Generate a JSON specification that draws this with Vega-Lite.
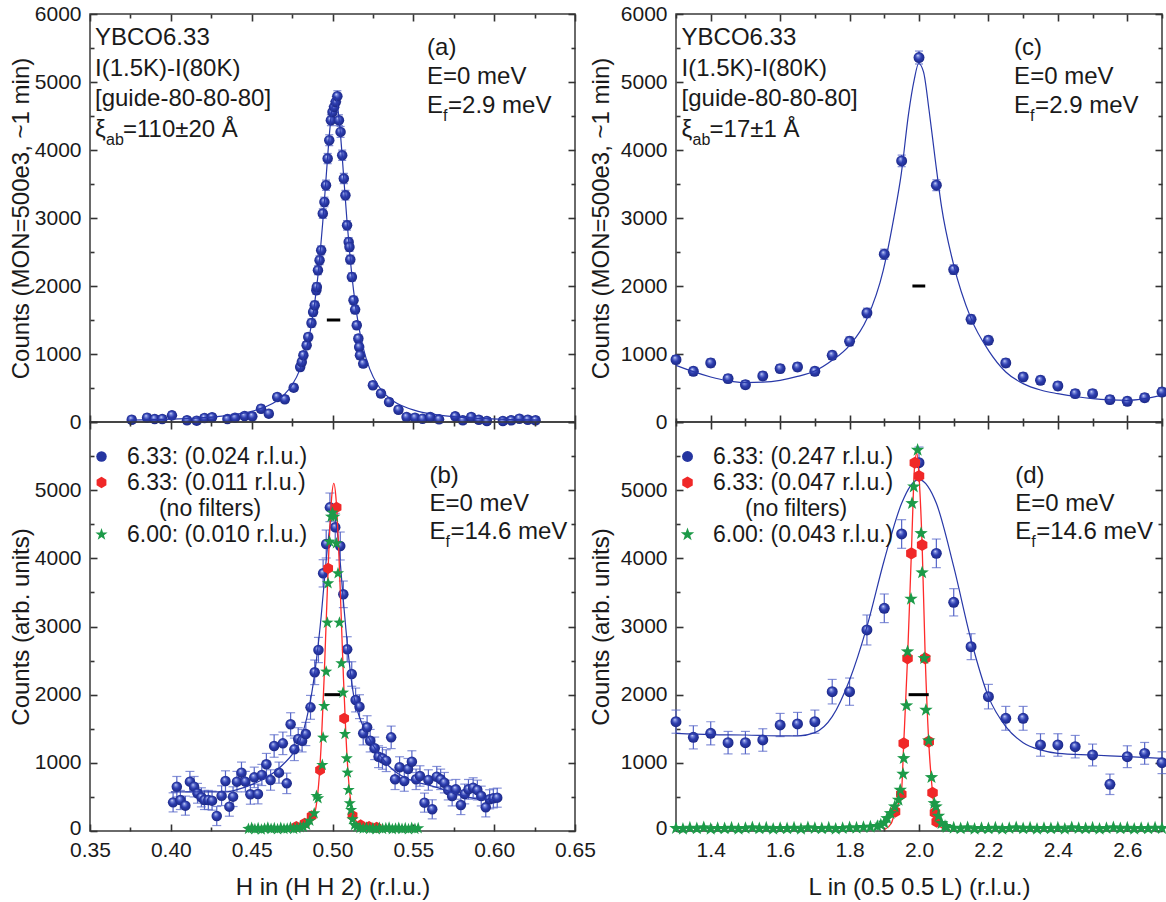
{
  "$schema": "https://vega.github.io/schema/vega-lite/v6.json",
  "background": "white",
  "padding": {"left": 8, "top": 2, "right": 3, "bottom": 5},
  "config": {
    "font": "Liberation Sans",
    "view": {"stroke": "#3a3a3a", "strokeWidth": 1.5},
    "axis": {"grid": false, "domain": false, "labelFont": "Liberation Sans", "labelFontSize": 21, "labelColor": "#1a1a1a", "labelFlush": false, "labelOverlap": false, "labelBound": false, "titleFont": "Liberation Sans", "titleFontSize": 24, "titleFontWeight": "normal", "titleColor": "#1a1a1a", "tickColor": "#333333", "tickWidth": 1.6, "zindex": 1},
    "legend": {"labelFont": "Liberation Sans", "labelColor": "#1a1a1a"},
    "text": {"font": "Liberation Sans", "fontSize": 24, "color": "#1a1a1a"}
  },
  "datasets": {
    "a_pts": [
      {"H":0.3758,"C":34,"e":50},{"H":0.3853,"C":64,"e":50},{"H":0.390,"C":44,"e":50},{"H":0.3947,"C":44,"e":50},{"H":0.4007,"C":98,"e":50},{"H":0.410,"C":25,"e":50},{"H":0.416,"C":20,"e":50},{"H":0.4208,"C":59,"e":50},{"H":0.4255,"C":69,"e":50},{"H":0.435,"C":44,"e":50},{"H":0.4397,"C":64,"e":50},{"H":0.4456,"C":88,"e":50},{"H":0.4504,"C":83,"e":50},{"H":0.4558,"C":196,"e":50},{"H":0.4606,"C":123,"e":50},{"H":0.4658,"C":368,"e":50},{"H":0.4705,"C":335,"e":50},{"H":0.476,"C":505,"e":50},{"H":0.480,"C":809,"e":55},{"H":0.481,"C":883,"e":55},{"H":0.482,"C":981,"e":55},{"H":0.484,"C":1128,"e":55},{"H":0.485,"C":1250,"e":55},{"H":0.487,"C":1456,"e":60},{"H":0.488,"C":1618,"e":60},{"H":0.489,"C":1717,"e":60},{"H":0.490,"C":1937,"e":60},{"H":0.4903,"C":1986,"e":60},{"H":0.491,"C":2232,"e":65},{"H":0.492,"C":2379,"e":65},{"H":0.493,"C":2525,"e":65},{"H":0.494,"C":3065,"e":70},{"H":0.495,"C":3236,"e":70},{"H":0.496,"C":3482,"e":75},{"H":0.497,"C":3874,"e":75},{"H":0.498,"C":4144,"e":80},{"H":0.499,"C":4438,"e":80},{"H":0.500,"C":4560,"e":80},{"H":0.501,"C":4634,"e":80},{"H":0.502,"C":4707,"e":80},{"H":0.503,"C":4791,"e":80},{"H":0.504,"C":4438,"e":80},{"H":0.505,"C":4266,"e":80},{"H":0.506,"C":3923,"e":75},{"H":0.507,"C":3580,"e":75},{"H":0.508,"C":3335,"e":70},{"H":0.509,"C":2893,"e":70},{"H":0.510,"C":2648,"e":65},{"H":0.5105,"C":2574,"e":65},{"H":0.511,"C":2389,"e":65},{"H":0.512,"C":2133,"e":60},{"H":0.513,"C":1790,"e":60},{"H":0.514,"C":1653,"e":60},{"H":0.515,"C":1422,"e":55},{"H":0.516,"C":1227,"e":55},{"H":0.5165,"C":1103,"e":55},{"H":0.517,"C":981,"e":55},{"H":0.519,"C":859,"e":55},{"H":0.525,"C":540,"e":50},{"H":0.530,"C":418,"e":50},{"H":0.535,"C":294,"e":50},{"H":0.5408,"C":181,"e":50},{"H":0.5458,"C":74,"e":50},{"H":0.551,"C":64,"e":50},{"H":0.5557,"C":49,"e":50},{"H":0.5605,"C":74,"e":50},{"H":0.5659,"C":39,"e":50},{"H":0.5759,"C":83,"e":50},{"H":0.5806,"C":25,"e":50},{"H":0.5858,"C":74,"e":50},{"H":0.5905,"C":34,"e":50},{"H":0.5955,"C":15,"e":50},{"H":0.6054,"C":15,"e":50},{"H":0.6106,"C":25,"e":50},{"H":0.6156,"C":49,"e":50},{"H":0.6208,"C":34,"e":50},{"H":0.6256,"C":25,"e":50}
    ],
    "a_fit": [
      {"H":0.375,"C":27},{"H":0.39,"C":34},{"H":0.40,"C":41},{"H":0.41,"C":51},{"H":0.42,"C":64},{"H":0.43,"C":83},{"H":0.44,"C":111},{"H":0.45,"C":157},{"H":0.46,"C":238},{"H":0.465,"C":303},{"H":0.47,"C":399},{"H":0.475,"C":544},{"H":0.48,"C":781},{"H":0.484,"C":1089},{"H":0.487,"C":1435},{"H":0.49,"C":1939},{"H":0.492,"C":2390},{"H":0.494,"C":2945},{"H":0.496,"C":3580},{"H":0.498,"C":4208},{"H":0.5,"C":4664},{"H":0.5015,"C":4780},{"H":0.503,"C":4664},{"H":0.505,"C":4208},{"H":0.507,"C":3580},{"H":0.509,"C":2945},{"H":0.511,"C":2390},{"H":0.513,"C":1939},{"H":0.516,"C":1435},{"H":0.519,"C":1089},{"H":0.523,"C":781},{"H":0.528,"C":544},{"H":0.533,"C":399},{"H":0.538,"C":303},{"H":0.543,"C":238},{"H":0.553,"C":157},{"H":0.563,"C":111},{"H":0.573,"C":83},{"H":0.583,"C":64},{"H":0.593,"C":51},{"H":0.603,"C":41},{"H":0.613,"C":34},{"H":0.628,"C":27}
    ],
    "c_pts": [
      {"L":1.30,"C":917,"e":60},{"L":1.35,"C":745,"e":60},{"L":1.40,"C":868,"e":60},{"L":1.45,"C":638,"e":60},{"L":1.50,"C":549,"e":60},{"L":1.55,"C":677,"e":60},{"L":1.60,"C":785,"e":60},{"L":1.65,"C":809,"e":60},{"L":1.70,"C":745,"e":60},{"L":1.75,"C":981,"e":60},{"L":1.80,"C":1187,"e":65},{"L":1.85,"C":1604,"e":70},{"L":1.90,"C":2467,"e":75},{"L":1.95,"C":3840,"e":85},{"L":2.00,"C":5360,"e":95},{"L":2.05,"C":3482,"e":80},{"L":2.10,"C":2241,"e":70},{"L":2.15,"C":1510,"e":65},{"L":2.20,"C":1201,"e":60},{"L":2.25,"C":868,"e":60},{"L":2.30,"C":662,"e":60},{"L":2.35,"C":613,"e":60},{"L":2.40,"C":530,"e":60},{"L":2.45,"C":417,"e":60},{"L":2.50,"C":417,"e":60},{"L":2.55,"C":329,"e":60},{"L":2.60,"C":304,"e":60},{"L":2.65,"C":358,"e":60},{"L":2.70,"C":441,"e":60}
    ],
    "c_fit": [
      {"L":1.30,"C":834},{"L":1.35,"C":740},{"L":1.40,"C":662},{"L":1.45,"C":605},{"L":1.50,"C":579},{"L":1.55,"C":585},{"L":1.60,"C":613},{"L":1.65,"C":670},{"L":1.70,"C":750},{"L":1.75,"C":907},{"L":1.80,"C":1128},{"L":1.85,"C":1520},{"L":1.897,"C":2231},{"L":1.928,"C":3016},{"L":1.949,"C":3653},{"L":1.970,"C":4536},{"L":1.986,"C":5027},{"L":1.999,"C":5272},{"L":2.013,"C":5149},{"L":2.029,"C":4585},{"L":2.047,"C":3850},{"L":2.065,"C":3163},{"L":2.099,"C":2329},{"L":2.15,"C":1520},{"L":2.20,"C":1054},{"L":2.25,"C":736},{"L":2.30,"C":564},{"L":2.35,"C":470},{"L":2.40,"C":417},{"L":2.45,"C":375},{"L":2.50,"C":343},{"L":2.55,"C":325},{"L":2.60,"C":319},{"L":2.65,"C":345},{"L":2.70,"C":392}
    ],
    "b_blue": [
      {"H":0.4014,"C":420,"e":140},{"H":0.4037,"C":650,"e":150},{"H":0.4059,"C":455,"e":140},{"H":0.409,"C":372,"e":140},{"H":0.4118,"C":724,"e":150},{"H":0.4144,"C":650,"e":150},{"H":0.4165,"C":553,"e":145},{"H":0.4189,"C":494,"e":140},{"H":0.4208,"C":455,"e":140},{"H":0.4232,"C":455,"e":140},{"H":0.4255,"C":445,"e":140},{"H":0.4284,"C":220,"e":140},{"H":0.4314,"C":518,"e":145},{"H":0.4338,"C":733,"e":150},{"H":0.4362,"C":357,"e":140},{"H":0.4385,"C":504,"e":145},{"H":0.4409,"C":724,"e":150},{"H":0.4437,"C":856,"e":155},{"H":0.4461,"C":724,"e":150},{"H":0.4492,"C":538,"e":145},{"H":0.4516,"C":787,"e":150},{"H":0.4539,"C":543,"e":145},{"H":0.4563,"C":822,"e":155},{"H":0.4591,"C":978,"e":160},{"H":0.4617,"C":748,"e":150},{"H":0.4639,"C":1247,"e":165},{"H":0.4669,"C":856,"e":155},{"H":0.4693,"C":1286,"e":165},{"H":0.4717,"C":699,"e":150},{"H":0.4741,"C":1565,"e":170},{"H":0.4764,"C":1198,"e":165},{"H":0.4788,"C":1350,"e":165},{"H":0.4812,"C":1325,"e":165},{"H":0.4835,"C":1423,"e":170},{"H":0.4864,"C":1814,"e":175},{"H":0.489,"C":2328,"e":180},{"H":0.4913,"C":2655,"e":185},{"H":0.4942,"C":3780,"e":200},{"H":0.4961,"C":4210,"e":205},{"H":0.4984,"C":4748,"e":210},{"H":0.5017,"C":4455,"e":205},{"H":0.5048,"C":4181,"e":205},{"H":0.5067,"C":3472,"e":195},{"H":0.5091,"C":2665,"e":185},{"H":0.5119,"C":2303,"e":180},{"H":0.5143,"C":1922,"e":175},{"H":0.5167,"C":1824,"e":175},{"H":0.519,"C":1433,"e":170},{"H":0.5214,"C":1521,"e":170},{"H":0.5233,"C":1325,"e":165},{"H":0.5261,"C":1213,"e":165},{"H":0.5285,"C":1090,"e":160},{"H":0.5309,"C":1066,"e":160},{"H":0.5332,"C":1032,"e":160},{"H":0.5363,"C":1374,"e":165},{"H":0.5387,"C":758,"e":150},{"H":0.5415,"C":934,"e":155},{"H":0.5444,"C":733,"e":150},{"H":0.5467,"C":909,"e":155},{"H":0.5491,"C":1017,"e":160},{"H":0.5517,"C":758,"e":150},{"H":0.5541,"C":807,"e":150},{"H":0.5569,"C":416,"e":140},{"H":0.5593,"C":748,"e":150},{"H":0.5617,"C":318,"e":140},{"H":0.5645,"C":797,"e":150},{"H":0.5669,"C":758,"e":150},{"H":0.5692,"C":709,"e":150},{"H":0.5716,"C":601,"e":145},{"H":0.574,"C":513,"e":145},{"H":0.5763,"C":611,"e":145},{"H":0.5794,"C":381,"e":140},{"H":0.5818,"C":543,"e":145},{"H":0.5841,"C":611,"e":145},{"H":0.587,"C":636,"e":145},{"H":0.5896,"C":601,"e":145},{"H":0.592,"C":513,"e":145},{"H":0.5948,"C":347,"e":140},{"H":0.5972,"C":465,"e":140},{"H":0.5995,"C":479,"e":140},{"H":0.6019,"C":489,"e":140}
    ],
    "b_blue_fit": [
      {"H":0.400,"C":575},{"H":0.435,"C":575},{"H":0.44,"C":600},{"H":0.45,"C":680},{"H":0.46,"C":800},{"H":0.465,"C":880},{"H":0.47,"C":990},{"H":0.475,"C":1120},{"H":0.48,"C":1330},{"H":0.484,"C":1650},{"H":0.487,"C":2000},{"H":0.49,"C":2500},{"H":0.493,"C":3150},{"H":0.496,"C":3950},{"H":0.498,"C":4400},{"H":0.5,"C":4650},{"H":0.502,"C":4550},{"H":0.504,"C":4150},{"H":0.507,"C":3300},{"H":0.51,"C":2550},{"H":0.513,"C":2000},{"H":0.516,"C":1720},{"H":0.52,"C":1480},{"H":0.525,"C":1260},{"H":0.53,"C":1090},{"H":0.535,"C":950},{"H":0.54,"C":850},{"H":0.55,"C":730},{"H":0.56,"C":670},{"H":0.57,"C":600},{"H":0.58,"C":520},{"H":0.59,"C":470},{"H":0.60,"C":460}
    ],
    "b_red_fit": [
      {"H":0.4728,"C":10},{"H":0.4788,"C":30},{"H":0.4848,"C":80},{"H":0.4878,"C":180},{"H":0.4898,"C":350},{"H":0.4918,"C":796},{"H":0.4933,"C":1404},{"H":0.4948,"C":2234},{"H":0.4963,"C":3205},{"H":0.4978,"C":4150},{"H":0.4993,"C":4840},{"H":0.5008,"C":5100},{"H":0.5023,"C":4840},{"H":0.5038,"C":4150},{"H":0.5053,"C":3205},{"H":0.5068,"C":2234},{"H":0.5083,"C":1404},{"H":0.5098,"C":796},{"H":0.5118,"C":350},{"H":0.5138,"C":180},{"H":0.5168,"C":80},{"H":0.5228,"C":30},{"H":0.5278,"C":10}
    ],
    "b_rg": [
      {"H":0.4776,"C":64,"s":"633nf"},{"H":0.4828,"C":112,"s":"633nf"},{"H":0.4871,"C":220,"s":"633nf"},{"H":0.4923,"C":895,"s":"633nf"},{"H":0.4973,"C":3853,"s":"633nf"},{"H":0.5025,"C":4748,"s":"633nf"},{"H":0.5072,"C":1653,"s":"633nf"},{"H":0.5124,"C":225,"s":"633nf"},{"H":0.5174,"C":88,"s":"633nf"},{"H":0.5226,"C":64,"s":"633nf"},{"H":0.5273,"C":54,"s":"633nf"},
      {"H":0.448,"C":30,"s":"600"},{"H":0.450,"C":45,"s":"600"},{"H":0.452,"C":25,"s":"600"},{"H":0.454,"C":40,"s":"600"},{"H":0.456,"C":20,"s":"600"},{"H":0.458,"C":35,"s":"600"},{"H":0.460,"C":50,"s":"600"},{"H":0.462,"C":30,"s":"600"},{"H":0.464,"C":40,"s":"600"},{"H":0.466,"C":25,"s":"600"},{"H":0.468,"C":45,"s":"600"},{"H":0.470,"C":30,"s":"600"},{"H":0.472,"C":35,"s":"600"},{"H":0.474,"C":50,"s":"600"},{"H":0.476,"C":30,"s":"600"},{"H":0.478,"C":40,"s":"600"},{"H":0.480,"C":55,"s":"600"},{"H":0.482,"C":60,"s":"600"},{"H":0.484,"C":90,"s":"600"},{"H":0.486,"C":150,"s":"600"},{"H":0.4887,"C":259,"s":"600"},{"H":0.4901,"C":513,"s":"600"},{"H":0.4911,"C":479,"s":"600"},{"H":0.4937,"C":968,"s":"600"},{"H":0.4942,"C":1369,"s":"600"},{"H":0.4949,"C":1834,"s":"600"},{"H":0.4961,"C":2337,"s":"600"},{"H":0.4968,"C":3056,"s":"600"},{"H":0.4973,"C":3633,"s":"600"},{"H":0.4982,"C":4245,"s":"600"},{"H":0.4991,"C":4611,"s":"600"},{"H":0.5,"C":4670,"s":"600"},{"H":0.5012,"C":4611,"s":"600"},{"H":0.5024,"C":4220,"s":"600"},{"H":0.5034,"C":3780,"s":"600"},{"H":0.5043,"C":3056,"s":"600"},{"H":0.5055,"C":2460,"s":"600"},{"H":0.5065,"C":2029,"s":"600"},{"H":0.5077,"C":1423,"s":"600"},{"H":0.5088,"C":1066,"s":"600"},{"H":0.5093,"C":856,"s":"600"},{"H":0.51,"C":601,"s":"600"},{"H":0.5107,"C":406,"s":"600"},{"H":0.5115,"C":308,"s":"600"},{"H":0.5124,"C":171,"s":"600"},{"H":0.5136,"C":88,"s":"600"},{"H":0.515,"C":60,"s":"600"},{"H":0.517,"C":45,"s":"600"},{"H":0.519,"C":35,"s":"600"},{"H":0.521,"C":50,"s":"600"},{"H":0.523,"C":30,"s":"600"},{"H":0.525,"C":40,"s":"600"},{"H":0.527,"C":25,"s":"600"},{"H":0.529,"C":45,"s":"600"},{"H":0.531,"C":30,"s":"600"},{"H":0.533,"C":40,"s":"600"},{"H":0.535,"C":50,"s":"600"},{"H":0.537,"C":25,"s":"600"},{"H":0.539,"C":35,"s":"600"},{"H":0.541,"C":45,"s":"600"},{"H":0.543,"C":30,"s":"600"},{"H":0.545,"C":40,"s":"600"},{"H":0.547,"C":25,"s":"600"},{"H":0.549,"C":45,"s":"600"},{"H":0.551,"C":30,"s":"600"},{"H":0.553,"C":40,"s":"600"}
    ],
    "d_blue": [
      {"L":1.30,"C":1604,"e":170},{"L":1.35,"C":1374,"e":170},{"L":1.40,"C":1433,"e":170},{"L":1.45,"C":1296,"e":165},{"L":1.50,"C":1296,"e":165},{"L":1.55,"C":1335,"e":165},{"L":1.60,"C":1555,"e":170},{"L":1.65,"C":1570,"e":170},{"L":1.70,"C":1604,"e":170},{"L":1.75,"C":2044,"e":180},{"L":1.80,"C":2044,"e":200},{"L":1.85,"C":2949,"e":220},{"L":1.90,"C":3267,"e":210},{"L":1.95,"C":4357,"e":210},{"L":2.00,"C":5403,"e":230},{"L":2.05,"C":4073,"e":210},{"L":2.10,"C":3355,"e":200},{"L":2.15,"C":2704,"e":190},{"L":2.20,"C":1971,"e":180},{"L":2.25,"C":1653,"e":175},{"L":2.30,"C":1653,"e":175},{"L":2.35,"C":1262,"e":165},{"L":2.40,"C":1262,"e":165},{"L":2.45,"C":1237,"e":165},{"L":2.50,"C":1115,"e":160},{"L":2.55,"C":685,"e":150},{"L":2.60,"C":1090,"e":160},{"L":2.65,"C":1139,"e":160},{"L":2.70,"C":1002,"e":160}
    ],
    "d_blue_fit": [
      {"L":1.30,"C":1433},{"L":1.40,"C":1415},{"L":1.50,"C":1408},{"L":1.60,"C":1395},{"L":1.65,"C":1394},{"L":1.70,"C":1443},{"L":1.75,"C":1677},{"L":1.80,"C":2215},{"L":1.85,"C":2998},{"L":1.90,"C":3976},{"L":1.95,"C":4807},{"L":1.975,"C":5060},{"L":2.00,"C":5159},{"L":2.025,"C":5060},{"L":2.05,"C":4807},{"L":2.10,"C":3878},{"L":2.15,"C":2802},{"L":2.20,"C":1971},{"L":2.25,"C":1531},{"L":2.30,"C":1296},{"L":2.35,"C":1190},{"L":2.40,"C":1139},{"L":2.50,"C":1115},{"L":2.60,"C":1090},{"L":2.70,"C":1066}
    ],
    "d_red_fit": [
      {"L":1.90,"C":20},{"L":1.92,"C":110},{"L":1.931,"C":284},{"L":1.949,"C":540},{"L":1.956,"C":1286},{"L":1.967,"C":2533},{"L":1.978,"C":4073},{"L":1.988,"C":5403},{"L":1.994,"C":5540},{"L":2.0,"C":5208},{"L":2.009,"C":4196},{"L":2.018,"C":2533},{"L":2.028,"C":1311},{"L":2.039,"C":562},{"L":2.046,"C":269},{"L":2.051,"C":137},{"L":2.065,"C":50},{"L":2.09,"C":15}
    ],
    "d_rg": [
      {"L":1.931,"C":284,"s":"633nf"},{"L":1.949,"C":538,"s":"633nf"},{"L":1.956,"C":1286,"s":"633nf"},{"L":1.967,"C":2533,"s":"633nf"},{"L":1.978,"C":4073,"s":"633nf"},{"L":1.988,"C":5403,"s":"633nf"},{"L":2.0,"C":5208,"s":"633nf"},{"L":2.009,"C":4196,"s":"633nf"},{"L":2.018,"C":2533,"s":"633nf"},{"L":2.028,"C":1311,"s":"633nf"},{"L":2.039,"C":562,"s":"633nf"},{"L":2.046,"C":269,"s":"633nf"},{"L":2.051,"C":137,"s":"633nf"},
      {"L":1.30,"C":40,"s":"600"},{"L":1.32,"C":30,"s":"600"},{"L":1.34,"C":45,"s":"600"},{"L":1.36,"C":35,"s":"600"},{"L":1.38,"C":50,"s":"600"},{"L":1.40,"C":30,"s":"600"},{"L":1.42,"C":40,"s":"600"},{"L":1.44,"C":35,"s":"600"},{"L":1.46,"C":45,"s":"600"},{"L":1.48,"C":30,"s":"600"},{"L":1.50,"C":40,"s":"600"},{"L":1.52,"C":50,"s":"600"},{"L":1.54,"C":35,"s":"600"},{"L":1.56,"C":45,"s":"600"},{"L":1.58,"C":30,"s":"600"},{"L":1.60,"C":40,"s":"600"},{"L":1.62,"C":35,"s":"600"},{"L":1.64,"C":45,"s":"600"},{"L":1.66,"C":30,"s":"600"},{"L":1.68,"C":50,"s":"600"},{"L":1.70,"C":40,"s":"600"},{"L":1.72,"C":35,"s":"600"},{"L":1.74,"C":45,"s":"600"},{"L":1.76,"C":30,"s":"600"},{"L":1.78,"C":40,"s":"600"},{"L":1.80,"C":50,"s":"600"},{"L":1.82,"C":45,"s":"600"},{"L":1.84,"C":55,"s":"600"},{"L":1.86,"C":60,"s":"600"},{"L":1.88,"C":70,"s":"600"},{"L":1.89,"C":90,"s":"600"},{"L":1.90,"C":120,"s":"600"},{"L":1.908,"C":186,"s":"600"},{"L":1.918,"C":259,"s":"600"},{"L":1.93,"C":357,"s":"600"},{"L":1.941,"C":455,"s":"600"},{"L":1.946,"C":601,"s":"600"},{"L":1.954,"C":836,"s":"600"},{"L":1.956,"C":1066,"s":"600"},{"L":1.964,"C":1839,"s":"600"},{"L":1.967,"C":2631,"s":"600"},{"L":1.977,"C":3404,"s":"600"},{"L":1.98,"C":4807,"s":"600"},{"L":1.985,"C":5051,"s":"600"},{"L":1.996,"C":5589,"s":"600"},{"L":2.006,"C":4367,"s":"600"},{"L":2.009,"C":3790,"s":"600"},{"L":2.015,"C":2533,"s":"600"},{"L":2.02,"C":1775,"s":"600"},{"L":2.028,"C":1325,"s":"600"},{"L":2.036,"C":787,"s":"600"},{"L":2.044,"C":406,"s":"600"},{"L":2.049,"C":357,"s":"600"},{"L":2.056,"C":220,"s":"600"},{"L":2.065,"C":112,"s":"600"},{"L":2.075,"C":70,"s":"600"},{"L":2.08,"C":55,"s":"600"},{"L":2.10,"C":45,"s":"600"},{"L":2.12,"C":35,"s":"600"},{"L":2.14,"C":50,"s":"600"},{"L":2.16,"C":30,"s":"600"},{"L":2.18,"C":40,"s":"600"},{"L":2.20,"C":35,"s":"600"},{"L":2.22,"C":45,"s":"600"},{"L":2.24,"C":30,"s":"600"},{"L":2.26,"C":40,"s":"600"},{"L":2.28,"C":50,"s":"600"},{"L":2.30,"C":35,"s":"600"},{"L":2.32,"C":45,"s":"600"},{"L":2.34,"C":30,"s":"600"},{"L":2.36,"C":40,"s":"600"},{"L":2.38,"C":35,"s":"600"},{"L":2.40,"C":45,"s":"600"},{"L":2.42,"C":30,"s":"600"},{"L":2.44,"C":50,"s":"600"},{"L":2.46,"C":40,"s":"600"},{"L":2.48,"C":35,"s":"600"},{"L":2.50,"C":45,"s":"600"},{"L":2.52,"C":30,"s":"600"},{"L":2.54,"C":40,"s":"600"},{"L":2.56,"C":50,"s":"600"},{"L":2.58,"C":35,"s":"600"},{"L":2.60,"C":45,"s":"600"},{"L":2.62,"C":30,"s":"600"},{"L":2.64,"C":40,"s":"600"},{"L":2.66,"C":35,"s":"600"},{"L":2.68,"C":45,"s":"600"},{"L":2.70,"C":40,"s":"600"}
    ]
  },
  "columns": 2,
  "spacing": {"row": 0, "column": 101},
  "bounds": "flush",
  "resolve": {"scale": {"color": "independent", "shape": "independent", "size": "independent"}, "legend": {"color": "independent", "shape": "independent", "size": "independent"}},
  "concat": [
    {
      "width": 485, "height": 408,
      "resolve": {"axis": {"x": "independent", "y": "independent"}},
      "layer": [
        {"data": {"name": "a_pts"}, "mark": {"type": "errorbar", "ticks": {"size": 8}, "color": "#4a5ac0", "thickness": 1.2},
         "encoding": {"x": {"field": "H", "type": "quantitative", "scale": {"domain": [0.35, 0.65], "nice": false, "zero": false}, "axis": null}, "y": {"field": "C", "type": "quantitative", "scale": {"domain": [0, 6000], "nice": false}, "axis": null}, "yError": {"field": "e"}}},
        {"data": {"name": "a_pts"}, "mark": {"type": "point", "shape": "circle", "filled": true, "size": 110, "opacity": 1, "strokeWidth": 0, "fill": {"gradient": "radial", "x1": 0.38, "y1": 0.3, "r1": 0, "x2": 0.5, "y2": 0.5, "r2": 0.55, "stops": [{"offset": 0, "color": "#eef0ff"}, {"offset": 0.18, "color": "#8090e0"}, {"offset": 0.5, "color": "#2e3eb0"}, {"offset": 1, "color": "#18247e"}]}},
         "encoding": {
           "x": {"field": "H", "type": "quantitative", "scale": {"domain": [0.35, 0.65], "nice": false, "zero": false}, "axis": {"orient": "bottom", "values": [0.35,0.375,0.4,0.425,0.45,0.475,0.5,0.525,0.55,0.575,0.6,0.625,0.65], "labels": false, "title": null, "tickSize": {"condition": {"test": "abs(datum.value*20-round(datum.value*20))<0.001", "value": -7}, "value": -4}}},
           "y": {"field": "C", "type": "quantitative", "scale": {"domain": [0, 6000], "nice": false}, "axis": {"orient": "left", "values": [0,500,1000,1500,2000,2500,3000,3500,4000,4500,5000,5500,6000], "labelExpr": "datum.value % 1000 === 0 ? format(datum.value, 'd') : ''", "tickSize": {"condition": {"test": "datum.value % 1000 === 0", "value": -7}, "value": -4}, "labelPadding": 16, "title": "Counts (MON=500e3, ~1 min)", "titlePadding": 1}}}},
        {"data": {"name": "a_fit"}, "mark": {"type": "line", "color": "#2838a8", "strokeWidth": 1.2, "interpolate": "monotone"},
         "encoding": {
           "x": {"field": "H", "type": "quantitative", "scale": {"domain": [0.35, 0.65], "nice": false, "zero": false}, "axis": {"orient": "top", "values": [0.35,0.375,0.4,0.425,0.45,0.475,0.5,0.525,0.55,0.575,0.6,0.625,0.65], "labels": false, "title": null, "tickSize": {"condition": {"test": "abs(datum.value*20-round(datum.value*20))<0.001", "value": -7}, "value": -4}}},
           "y": {"field": "C", "type": "quantitative", "scale": {"domain": [0, 6000], "nice": false}, "axis": {"orient": "right", "values": [0,500,1000,1500,2000,2500,3000,3500,4000,4500,5000,5500,6000], "labels": false, "title": null, "tickSize": {"condition": {"test": "datum.value % 1000 === 0", "value": -7}, "value": -4}}}}},
        {"data": {"values": [{"x1": 0.4965, "x2": 0.5048, "C": 1500}]}, "mark": {"type": "rule", "color": "black", "strokeWidth": 3},
         "encoding": {"x": {"field": "x1", "type": "quantitative", "scale": {"domain": [0.35, 0.65], "nice": false, "zero": false}, "axis": null}, "x2": {"field": "x2"}, "y": {"field": "C", "type": "quantitative", "scale": {"domain": [0, 6000], "nice": false}, "axis": null}}},
        {"data": {"values": [{}]}, "mark": {"type": "text", "align": "left", "baseline": "alphabetic", "fontSize": 24, "lineHeight": 30.5, "text": ["YBCO6.33", "I(1.5K)-I(80K)", "[guide-80-80-80]"]},
         "encoding": {"x": {"datum": 0.3531, "type": "quantitative", "scale": {"domain": [0.35, 0.65], "nice": false, "zero": false}, "axis": null}, "y": {"datum": 5541, "type": "quantitative", "scale": {"domain": [0, 6000], "nice": false}, "axis": null}}},
        {"data": {"values": [{}]}, "mark": {"type": "text", "align": "left", "baseline": "alphabetic", "fontSize": 24, "text": "ξ"},
         "encoding": {"x": {"datum": 0.3531, "type": "quantitative", "scale": {"domain": [0.35, 0.65], "nice": false, "zero": false}, "axis": null}, "y": {"datum": 4185, "type": "quantitative", "scale": {"domain": [0, 6000], "nice": false}, "axis": null}}},
        {"data": {"values": [{}]}, "mark": {"type": "text", "align": "left", "baseline": "alphabetic", "fontSize": 16, "dx": 11, "dy": 8, "text": "ab"},
         "encoding": {"x": {"datum": 0.3531, "type": "quantitative", "scale": {"domain": [0.35, 0.65], "nice": false, "zero": false}, "axis": null}, "y": {"datum": 4185, "type": "quantitative", "scale": {"domain": [0, 6000], "nice": false}, "axis": null}}},
        {"data": {"values": [{}]}, "mark": {"type": "text", "align": "left", "baseline": "alphabetic", "fontSize": 24, "dx": 28, "text": "=110±20 Å"},
         "encoding": {"x": {"datum": 0.3531, "type": "quantitative", "scale": {"domain": [0.35, 0.65], "nice": false, "zero": false}, "axis": null}, "y": {"datum": 4185, "type": "quantitative", "scale": {"domain": [0, 6000], "nice": false}, "axis": null}}},
        {"data": {"values": [{}]}, "mark": {"type": "text", "align": "left", "baseline": "alphabetic", "fontSize": 24, "lineHeight": 28.5, "text": ["(a)", "E=0 meV"]},
         "encoding": {"x": {"datum": 0.5585, "type": "quantitative", "scale": {"domain": [0.35, 0.65], "nice": false, "zero": false}, "axis": null}, "y": {"datum": 5394, "type": "quantitative", "scale": {"domain": [0, 6000], "nice": false}, "axis": null}}},
        {"data": {"values": [{}]}, "mark": {"type": "text", "align": "left", "baseline": "alphabetic", "fontSize": 24, "text": "E"},
         "encoding": {"x": {"datum": 0.5585, "type": "quantitative", "scale": {"domain": [0.35, 0.65], "nice": false, "zero": false}, "axis": null}, "y": {"datum": 4537, "type": "quantitative", "scale": {"domain": [0, 6000], "nice": false}, "axis": null}}},
        {"data": {"values": [{}]}, "mark": {"type": "text", "align": "left", "baseline": "alphabetic", "fontSize": 16, "dx": 16, "dy": 8, "text": "f"},
         "encoding": {"x": {"datum": 0.5585, "type": "quantitative", "scale": {"domain": [0.35, 0.65], "nice": false, "zero": false}, "axis": null}, "y": {"datum": 4537, "type": "quantitative", "scale": {"domain": [0, 6000], "nice": false}, "axis": null}}},
        {"data": {"values": [{}]}, "mark": {"type": "text", "align": "left", "baseline": "alphabetic", "fontSize": 24, "dx": 21, "text": "=2.9 meV"},
         "encoding": {"x": {"datum": 0.5585, "type": "quantitative", "scale": {"domain": [0.35, 0.65], "nice": false, "zero": false}, "axis": null}, "y": {"datum": 4537, "type": "quantitative", "scale": {"domain": [0, 6000], "nice": false}, "axis": null}}}
      ]
    },
    {
      "width": 486, "height": 408,
      "resolve": {"axis": {"x": "independent", "y": "independent"}},
      "layer": [
        {"data": {"name": "c_pts"}, "mark": {"type": "errorbar", "ticks": {"size": 8}, "color": "#4a5ac0", "thickness": 1.2},
         "encoding": {"x": {"field": "L", "type": "quantitative", "scale": {"domain": [1.3, 2.7], "nice": false, "zero": false}, "axis": null}, "y": {"field": "C", "type": "quantitative", "scale": {"domain": [0, 6000], "nice": false}, "axis": null}, "yError": {"field": "e"}}},
        {"data": {"name": "c_pts"}, "mark": {"type": "point", "shape": "circle", "filled": true, "size": 120, "opacity": 1, "strokeWidth": 0, "fill": {"gradient": "radial", "x1": 0.38, "y1": 0.3, "r1": 0, "x2": 0.5, "y2": 0.5, "r2": 0.55, "stops": [{"offset": 0, "color": "#eef0ff"}, {"offset": 0.18, "color": "#8090e0"}, {"offset": 0.5, "color": "#2e3eb0"}, {"offset": 1, "color": "#18247e"}]}},
         "encoding": {
           "x": {"field": "L", "type": "quantitative", "scale": {"domain": [1.3, 2.7], "nice": false, "zero": false}, "axis": {"orient": "bottom", "values": [1.3,1.4,1.5,1.6,1.7,1.8,1.9,2.0,2.1,2.2,2.3,2.4,2.5,2.6,2.7], "labels": false, "title": null, "tickSize": {"condition": {"test": "abs(datum.value*5-round(datum.value*5))<0.001", "value": -7}, "value": -4}}},
           "y": {"field": "C", "type": "quantitative", "scale": {"domain": [0, 6000], "nice": false}, "axis": {"orient": "left", "values": [0,500,1000,1500,2000,2500,3000,3500,4000,4500,5000,5500,6000], "labelExpr": "datum.value % 1000 === 0 ? format(datum.value, 'd') : ''", "tickSize": {"condition": {"test": "datum.value % 1000 === 0", "value": -7}, "value": -4}, "labelPadding": 16, "title": "Counts (MON=500e3, ~1 min)", "titlePadding": 7}}}},
        {"data": {"name": "c_fit"}, "mark": {"type": "line", "color": "#2838a8", "strokeWidth": 1.2, "interpolate": "monotone"},
         "encoding": {
           "x": {"field": "L", "type": "quantitative", "scale": {"domain": [1.3, 2.7], "nice": false, "zero": false}, "axis": {"orient": "top", "values": [1.3,1.4,1.5,1.6,1.7,1.8,1.9,2.0,2.1,2.2,2.3,2.4,2.5,2.6,2.7], "labels": false, "title": null, "tickSize": {"condition": {"test": "abs(datum.value*5-round(datum.value*5))<0.001", "value": -7}, "value": -4}}},
           "y": {"field": "C", "type": "quantitative", "scale": {"domain": [0, 6000], "nice": false}, "axis": {"orient": "right", "values": [0,500,1000,1500,2000,2500,3000,3500,4000,4500,5000,5500,6000], "labels": false, "title": null, "tickSize": {"condition": {"test": "datum.value % 1000 === 0", "value": -7}, "value": -4}}}}},
        {"data": {"values": [{"x1": 1.981, "x2": 2.018, "C": 2000}]}, "mark": {"type": "rule", "color": "black", "strokeWidth": 3},
         "encoding": {"x": {"field": "x1", "type": "quantitative", "scale": {"domain": [1.3, 2.7], "nice": false, "zero": false}, "axis": null}, "x2": {"field": "x2"}, "y": {"field": "C", "type": "quantitative", "scale": {"domain": [0, 6000], "nice": false}, "axis": null}}},
        {"data": {"values": [{}]}, "mark": {"type": "text", "align": "left", "baseline": "alphabetic", "fontSize": 24, "lineHeight": 30.5, "text": ["YBCO6.33", "I(1.5K)-I(80K)", "[guide-80-80-80]"]},
         "encoding": {"x": {"datum": 1.316, "type": "quantitative", "scale": {"domain": [1.3, 2.7], "nice": false, "zero": false}, "axis": null}, "y": {"datum": 5541, "type": "quantitative", "scale": {"domain": [0, 6000], "nice": false}, "axis": null}}},
        {"data": {"values": [{}]}, "mark": {"type": "text", "align": "left", "baseline": "alphabetic", "fontSize": 24, "text": "ξ"},
         "encoding": {"x": {"datum": 1.316, "type": "quantitative", "scale": {"domain": [1.3, 2.7], "nice": false, "zero": false}, "axis": null}, "y": {"datum": 4185, "type": "quantitative", "scale": {"domain": [0, 6000], "nice": false}, "axis": null}}},
        {"data": {"values": [{}]}, "mark": {"type": "text", "align": "left", "baseline": "alphabetic", "fontSize": 16, "dx": 11, "dy": 8, "text": "ab"},
         "encoding": {"x": {"datum": 1.316, "type": "quantitative", "scale": {"domain": [1.3, 2.7], "nice": false, "zero": false}, "axis": null}, "y": {"datum": 4185, "type": "quantitative", "scale": {"domain": [0, 6000], "nice": false}, "axis": null}}},
        {"data": {"values": [{}]}, "mark": {"type": "text", "align": "left", "baseline": "alphabetic", "fontSize": 24, "dx": 28, "text": "=17±1 Å"},
         "encoding": {"x": {"datum": 1.316, "type": "quantitative", "scale": {"domain": [1.3, 2.7], "nice": false, "zero": false}, "axis": null}, "y": {"datum": 4185, "type": "quantitative", "scale": {"domain": [0, 6000], "nice": false}, "axis": null}}},
        {"data": {"values": [{}]}, "mark": {"type": "text", "align": "left", "baseline": "alphabetic", "fontSize": 24, "lineHeight": 28.5, "text": ["(c)", "E=0 meV"]},
         "encoding": {"x": {"datum": 2.274, "type": "quantitative", "scale": {"domain": [1.3, 2.7], "nice": false, "zero": false}, "axis": null}, "y": {"datum": 5394, "type": "quantitative", "scale": {"domain": [0, 6000], "nice": false}, "axis": null}}},
        {"data": {"values": [{}]}, "mark": {"type": "text", "align": "left", "baseline": "alphabetic", "fontSize": 24, "text": "E"},
         "encoding": {"x": {"datum": 2.274, "type": "quantitative", "scale": {"domain": [1.3, 2.7], "nice": false, "zero": false}, "axis": null}, "y": {"datum": 4537, "type": "quantitative", "scale": {"domain": [0, 6000], "nice": false}, "axis": null}}},
        {"data": {"values": [{}]}, "mark": {"type": "text", "align": "left", "baseline": "alphabetic", "fontSize": 16, "dx": 16, "dy": 8, "text": "f"},
         "encoding": {"x": {"datum": 2.274, "type": "quantitative", "scale": {"domain": [1.3, 2.7], "nice": false, "zero": false}, "axis": null}, "y": {"datum": 4537, "type": "quantitative", "scale": {"domain": [0, 6000], "nice": false}, "axis": null}}},
        {"data": {"values": [{}]}, "mark": {"type": "text", "align": "left", "baseline": "alphabetic", "fontSize": 24, "dx": 21, "text": "=2.9 meV"},
         "encoding": {"x": {"datum": 2.274, "type": "quantitative", "scale": {"domain": [1.3, 2.7], "nice": false, "zero": false}, "axis": null}, "y": {"datum": 4537, "type": "quantitative", "scale": {"domain": [0, 6000], "nice": false}, "axis": null}}}
      ]
    },
    {
      "width": 485, "height": 409,
      "resolve": {"axis": {"x": "independent", "y": "independent"}},
      "layer": [
        {"data": {"name": "b_blue"}, "mark": {"type": "errorbar", "ticks": {"size": 9}, "color": "#5565c8", "thickness": 1.2},
         "encoding": {"x": {"field": "H", "type": "quantitative", "scale": {"domain": [0.35, 0.65], "nice": false, "zero": false}, "axis": null}, "y": {"field": "C", "type": "quantitative", "scale": {"domain": [0, 6000], "nice": false}, "axis": null}, "yError": {"field": "e"}}},
        {"data": {"name": "b_blue"}, "mark": {"type": "point", "shape": "circle", "filled": true, "size": 110, "opacity": 1, "strokeWidth": 0, "fill": {"gradient": "radial", "x1": 0.38, "y1": 0.3, "r1": 0, "x2": 0.5, "y2": 0.5, "r2": 0.55, "stops": [{"offset": 0, "color": "#eef0ff"}, {"offset": 0.18, "color": "#8090e0"}, {"offset": 0.5, "color": "#2e3eb0"}, {"offset": 1, "color": "#18247e"}]}},
         "encoding": {
           "x": {"field": "H", "type": "quantitative", "scale": {"domain": [0.35, 0.65], "nice": false, "zero": false}, "axis": {"orient": "bottom", "values": [0.35,0.375,0.4,0.425,0.45,0.475,0.5,0.525,0.55,0.575,0.6,0.625,0.65], "labelExpr": "abs(datum.value*20-round(datum.value*20))<0.001 ? format(datum.value, '.2f') : ''", "tickSize": {"condition": {"test": "abs(datum.value*20-round(datum.value*20))<0.001", "value": -7}, "value": -4}, "labelPadding": 15, "title": "H in (H H 2) (r.l.u.)", "titlePadding": 12}},
           "y": {"field": "C", "type": "quantitative", "scale": {"domain": [0, 6000], "nice": false}, "axis": {"orient": "left", "values": [0,500,1000,1500,2000,2500,3000,3500,4000,4500,5000,5500,6000], "labelExpr": "datum.value % 1000 === 0 && datum.value < 6000 ? format(datum.value, 'd') : ''", "labelOffset": {"condition": {"test": "datum.value === 0", "value": -3}, "value": 0}, "tickSize": {"condition": {"test": "datum.value % 1000 === 0", "value": -7}, "value": -4}, "labelPadding": 16, "title": "Counts (arb. units)", "titlePadding": 1}}}},
        {"data": {"name": "b_blue_fit"}, "mark": {"type": "line", "color": "#2838a8", "strokeWidth": 1.2, "interpolate": "monotone"},
         "encoding": {
           "x": {"field": "H", "type": "quantitative", "scale": {"domain": [0.35, 0.65], "nice": false, "zero": false}, "axis": {"orient": "top", "values": [0.35,0.375,0.4,0.425,0.45,0.475,0.5,0.525,0.55,0.575,0.6,0.625,0.65], "labels": false, "title": null, "tickSize": {"condition": {"test": "abs(datum.value*20-round(datum.value*20))<0.001", "value": -7}, "value": -4}}},
           "y": {"field": "C", "type": "quantitative", "scale": {"domain": [0, 6000], "nice": false}, "axis": {"orient": "right", "values": [0,500,1000,1500,2000,2500,3000,3500,4000,4500,5000,5500,6000], "labels": false, "title": null, "tickSize": {"condition": {"test": "datum.value % 1000 === 0", "value": -7}, "value": -4}}}}},
        {"data": {"name": "b_red_fit"}, "mark": {"type": "line", "color": "#ff2a2a", "strokeWidth": 1.3, "interpolate": "monotone"},
         "encoding": {"x": {"field": "H", "type": "quantitative", "scale": {"domain": [0.35, 0.65], "nice": false, "zero": false}, "axis": null}, "y": {"field": "C", "type": "quantitative", "scale": {"domain": [0, 6000], "nice": false}, "axis": null}}},
        {"data": {"values": [{"x1": 0.495, "x2": 0.5048, "C": 2000}]}, "mark": {"type": "rule", "color": "black", "strokeWidth": 3},
         "encoding": {"x": {"field": "x1", "type": "quantitative", "scale": {"domain": [0.35, 0.65], "nice": false, "zero": false}, "axis": null}, "x2": {"field": "x2"}, "y": {"field": "C", "type": "quantitative", "scale": {"domain": [0, 6000], "nice": false}, "axis": null}}},
        {"data": {"name": "b_rg"}, "mark": {"type": "point", "filled": true, "opacity": 1, "strokeWidth": 0},
         "encoding": {
           "x": {"field": "H", "type": "quantitative", "scale": {"domain": [0.35, 0.65], "nice": false, "zero": false}, "axis": null},
           "y": {"field": "C", "type": "quantitative", "scale": {"domain": [0, 6000], "nice": false}, "axis": null},
           "color": {"field": "s", "type": "nominal", "scale": {"domain": ["633", "633nf", "nf", "600"], "range": ["#2535a0", "#f02828", "#ffffff", "#1c9a48"]},
             "legend": {"orient": "none", "legendX": 0, "legendY": 23, "title": null, "padding": 0, "symbolSize": 120, "symbolStrokeWidth": 0, "rowPadding": 2, "labelOffset": 14, "labelFontSize": 23, "labelLimit": 400, "labelExpr": "datum.value === '633' ? '6.33: (0.024 r.l.u.)' : datum.value === '633nf' ? '6.33: (0.011 r.l.u.)' : datum.value === 'nf' ? '\u200b\u00a0\u00a0\u00a0\u00a0\u00a0(no filters)' : '6.00: (0.010 r.l.u.)'", "encode": {"symbols": {"update": {"opacity": {"signal": "datum.value === 'nf' ? 0 : 1"}}}}}},
           "shape": {"field": "s", "type": "nominal", "scale": {"domain": ["633", "633nf", "nf", "600"], "range": ["circle", "M0,-1L0.866,-0.5L0.866,0.5L0,1L-0.866,0.5L-0.866,-0.5Z", "circle", "M0,-1L0.235,-0.324L0.951,-0.309L0.38,0.124L0.588,0.809L0,0.4L-0.588,0.809L-0.38,0.124L-0.951,-0.309L-0.235,-0.324Z"]},
             "legend": {"orient": "none", "legendX": 0, "legendY": 23, "title": null, "padding": 0, "symbolSize": 120, "symbolStrokeWidth": 0, "rowPadding": 2, "labelOffset": 14, "labelFontSize": 23, "labelLimit": 400, "labelExpr": "datum.value === '633' ? '6.33: (0.024 r.l.u.)' : datum.value === '633nf' ? '6.33: (0.011 r.l.u.)' : datum.value === 'nf' ? '\u200b\u00a0\u00a0\u00a0\u00a0\u00a0(no filters)' : '6.00: (0.010 r.l.u.)'", "encode": {"symbols": {"update": {"opacity": {"signal": "datum.value === 'nf' ? 0 : 1"}}}}}},
           "size": {"field": "s", "type": "nominal", "scale": {"domain": ["633", "633nf", "nf", "600"], "range": [110, 165, 110, 195]}, "legend": null}}},
        {"data": {"values": [{}]}, "mark": {"type": "text", "align": "left", "baseline": "alphabetic", "fontSize": 24, "lineHeight": 27.5, "text": ["(b)", "E=0 meV"]},
         "encoding": {"x": {"datum": 0.56, "type": "quantitative", "scale": {"domain": [0.35, 0.65], "nice": false, "zero": false}, "axis": null}, "y": {"datum": 5101, "type": "quantitative", "scale": {"domain": [0, 6000], "nice": false}, "axis": null}}},
        {"data": {"values": [{}]}, "mark": {"type": "text", "align": "left", "baseline": "alphabetic", "fontSize": 24, "text": "E"},
         "encoding": {"x": {"datum": 0.56, "type": "quantitative", "scale": {"domain": [0.35, 0.65], "nice": false, "zero": false}, "axis": null}, "y": {"datum": 4279, "type": "quantitative", "scale": {"domain": [0, 6000], "nice": false}, "axis": null}}},
        {"data": {"values": [{}]}, "mark": {"type": "text", "align": "left", "baseline": "alphabetic", "fontSize": 16, "dx": 16, "dy": 8, "text": "f"},
         "encoding": {"x": {"datum": 0.56, "type": "quantitative", "scale": {"domain": [0.35, 0.65], "nice": false, "zero": false}, "axis": null}, "y": {"datum": 4279, "type": "quantitative", "scale": {"domain": [0, 6000], "nice": false}, "axis": null}}},
        {"data": {"values": [{}]}, "mark": {"type": "text", "align": "left", "baseline": "alphabetic", "fontSize": 24, "dx": 21, "text": "=14.6 meV"},
         "encoding": {"x": {"datum": 0.56, "type": "quantitative", "scale": {"domain": [0.35, 0.65], "nice": false, "zero": false}, "axis": null}, "y": {"datum": 4279, "type": "quantitative", "scale": {"domain": [0, 6000], "nice": false}, "axis": null}}}
      ]
    },
    {
      "width": 486, "height": 409,
      "resolve": {"axis": {"x": "independent", "y": "independent"}},
      "layer": [
        {"data": {"name": "d_blue"}, "mark": {"type": "errorbar", "ticks": {"size": 9}, "color": "#5565c8", "thickness": 1.2},
         "encoding": {"x": {"field": "L", "type": "quantitative", "scale": {"domain": [1.3, 2.7], "nice": false, "zero": false}, "axis": null}, "y": {"field": "C", "type": "quantitative", "scale": {"domain": [0, 6000], "nice": false}, "axis": null}, "yError": {"field": "e"}}},
        {"data": {"name": "d_blue"}, "mark": {"type": "point", "shape": "circle", "filled": true, "size": 120, "opacity": 1, "strokeWidth": 0, "fill": {"gradient": "radial", "x1": 0.38, "y1": 0.3, "r1": 0, "x2": 0.5, "y2": 0.5, "r2": 0.55, "stops": [{"offset": 0, "color": "#eef0ff"}, {"offset": 0.18, "color": "#8090e0"}, {"offset": 0.5, "color": "#2e3eb0"}, {"offset": 1, "color": "#18247e"}]}},
         "encoding": {
           "x": {"field": "L", "type": "quantitative", "scale": {"domain": [1.3, 2.7], "nice": false, "zero": false}, "axis": {"orient": "bottom", "values": [1.3,1.4,1.5,1.6,1.7,1.8,1.9,2.0,2.1,2.2,2.3,2.4,2.5,2.6,2.7], "labelExpr": "abs(datum.value*5-round(datum.value*5))<0.001 ? format(datum.value, '.1f') : ''", "tickSize": {"condition": {"test": "abs(datum.value*5-round(datum.value*5))<0.001", "value": -7}, "value": -4}, "labelPadding": 15, "title": "L in (0.5 0.5 L) (r.l.u.)", "titlePadding": 12}},
           "y": {"field": "C", "type": "quantitative", "scale": {"domain": [0, 6000], "nice": false}, "axis": {"orient": "left", "values": [0,500,1000,1500,2000,2500,3000,3500,4000,4500,5000,5500,6000], "labelExpr": "datum.value % 1000 === 0 && datum.value < 6000 ? format(datum.value, 'd') : ''", "labelOffset": {"condition": {"test": "datum.value === 0", "value": -3}, "value": 0}, "tickSize": {"condition": {"test": "datum.value % 1000 === 0", "value": -7}, "value": -4}, "labelPadding": 16, "title": "Counts (arb. units)", "titlePadding": 7}}}},
        {"data": {"name": "d_blue_fit"}, "mark": {"type": "line", "color": "#2838a8", "strokeWidth": 1.2, "interpolate": "monotone"},
         "encoding": {
           "x": {"field": "L", "type": "quantitative", "scale": {"domain": [1.3, 2.7], "nice": false, "zero": false}, "axis": {"orient": "top", "values": [1.3,1.4,1.5,1.6,1.7,1.8,1.9,2.0,2.1,2.2,2.3,2.4,2.5,2.6,2.7], "labels": false, "title": null, "tickSize": {"condition": {"test": "abs(datum.value*5-round(datum.value*5))<0.001", "value": -7}, "value": -4}}},
           "y": {"field": "C", "type": "quantitative", "scale": {"domain": [0, 6000], "nice": false}, "axis": {"orient": "right", "values": [0,500,1000,1500,2000,2500,3000,3500,4000,4500,5000,5500,6000], "labels": false, "title": null, "tickSize": {"condition": {"test": "datum.value % 1000 === 0", "value": -7}, "value": -4}}}}},
        {"data": {"name": "d_red_fit"}, "mark": {"type": "line", "color": "#ff2a2a", "strokeWidth": 1.3, "interpolate": "monotone"},
         "encoding": {"x": {"field": "L", "type": "quantitative", "scale": {"domain": [1.3, 2.7], "nice": false, "zero": false}, "axis": null}, "y": {"field": "C", "type": "quantitative", "scale": {"domain": [0, 6000], "nice": false}, "axis": null}}},
        {"data": {"values": [{"x1": 1.97, "x2": 2.028, "C": 2000}]}, "mark": {"type": "rule", "color": "black", "strokeWidth": 3},
         "encoding": {"x": {"field": "x1", "type": "quantitative", "scale": {"domain": [1.3, 2.7], "nice": false, "zero": false}, "axis": null}, "x2": {"field": "x2"}, "y": {"field": "C", "type": "quantitative", "scale": {"domain": [0, 6000], "nice": false}, "axis": null}}},
        {"data": {"name": "d_rg"}, "mark": {"type": "point", "filled": true, "opacity": 1, "strokeWidth": 0},
         "encoding": {
           "x": {"field": "L", "type": "quantitative", "scale": {"domain": [1.3, 2.7], "nice": false, "zero": false}, "axis": null},
           "y": {"field": "C", "type": "quantitative", "scale": {"domain": [0, 6000], "nice": false}, "axis": null},
           "color": {"field": "s", "type": "nominal", "scale": {"domain": ["633", "633nf", "nf", "600"], "range": ["#2535a0", "#f02828", "#ffffff", "#1c9a48"]},
             "legend": {"orient": "none", "legendX": 0, "legendY": 23, "title": null, "padding": 0, "symbolSize": 120, "symbolStrokeWidth": 0, "rowPadding": 2, "labelOffset": 14, "labelFontSize": 23, "labelLimit": 400, "labelExpr": "datum.value === '633' ? '6.33: (0.247 r.l.u.)' : datum.value === '633nf' ? '6.33: (0.047 r.l.u.)' : datum.value === 'nf' ? '\u200b\u00a0\u00a0\u00a0\u00a0\u00a0(no filters)' : '6.00: (0.043 r.l.u.)'", "encode": {"symbols": {"update": {"opacity": {"signal": "datum.value === 'nf' ? 0 : 1"}}}}}},
           "shape": {"field": "s", "type": "nominal", "scale": {"domain": ["633", "633nf", "nf", "600"], "range": ["circle", "M0,-1L0.866,-0.5L0.866,0.5L0,1L-0.866,0.5L-0.866,-0.5Z", "circle", "M0,-1L0.235,-0.324L0.951,-0.309L0.38,0.124L0.588,0.809L0,0.4L-0.588,0.809L-0.38,0.124L-0.951,-0.309L-0.235,-0.324Z"]},
             "legend": {"orient": "none", "legendX": 0, "legendY": 23, "title": null, "padding": 0, "symbolSize": 120, "symbolStrokeWidth": 0, "rowPadding": 2, "labelOffset": 14, "labelFontSize": 23, "labelLimit": 400, "labelExpr": "datum.value === '633' ? '6.33: (0.247 r.l.u.)' : datum.value === '633nf' ? '6.33: (0.047 r.l.u.)' : datum.value === 'nf' ? '\u200b\u00a0\u00a0\u00a0\u00a0\u00a0(no filters)' : '6.00: (0.043 r.l.u.)'", "encode": {"symbols": {"update": {"opacity": {"signal": "datum.value === 'nf' ? 0 : 1"}}}}}},
           "size": {"field": "s", "type": "nominal", "scale": {"domain": ["633", "633nf", "nf", "600"], "range": [120, 200, 120, 120]}, "legend": null}}},
        {"data": {"values": [{}]}, "mark": {"type": "text", "align": "left", "baseline": "alphabetic", "fontSize": 24, "lineHeight": 27.5, "text": ["(d)", "E=0 meV"]},
         "encoding": {"x": {"datum": 2.277, "type": "quantitative", "scale": {"domain": [1.3, 2.7], "nice": false, "zero": false}, "axis": null}, "y": {"datum": 5101, "type": "quantitative", "scale": {"domain": [0, 6000], "nice": false}, "axis": null}}},
        {"data": {"values": [{}]}, "mark": {"type": "text", "align": "left", "baseline": "alphabetic", "fontSize": 24, "text": "E"},
         "encoding": {"x": {"datum": 2.277, "type": "quantitative", "scale": {"domain": [1.3, 2.7], "nice": false, "zero": false}, "axis": null}, "y": {"datum": 4279, "type": "quantitative", "scale": {"domain": [0, 6000], "nice": false}, "axis": null}}},
        {"data": {"values": [{}]}, "mark": {"type": "text", "align": "left", "baseline": "alphabetic", "fontSize": 16, "dx": 16, "dy": 8, "text": "f"},
         "encoding": {"x": {"datum": 2.277, "type": "quantitative", "scale": {"domain": [1.3, 2.7], "nice": false, "zero": false}, "axis": null}, "y": {"datum": 4279, "type": "quantitative", "scale": {"domain": [0, 6000], "nice": false}, "axis": null}}},
        {"data": {"values": [{}]}, "mark": {"type": "text", "align": "left", "baseline": "alphabetic", "fontSize": 24, "dx": 21, "text": "=14.6 meV"},
         "encoding": {"x": {"datum": 2.277, "type": "quantitative", "scale": {"domain": [1.3, 2.7], "nice": false, "zero": false}, "axis": null}, "y": {"datum": 4279, "type": "quantitative", "scale": {"domain": [0, 6000], "nice": false}, "axis": null}}}
      ]
    }
  ]
}
